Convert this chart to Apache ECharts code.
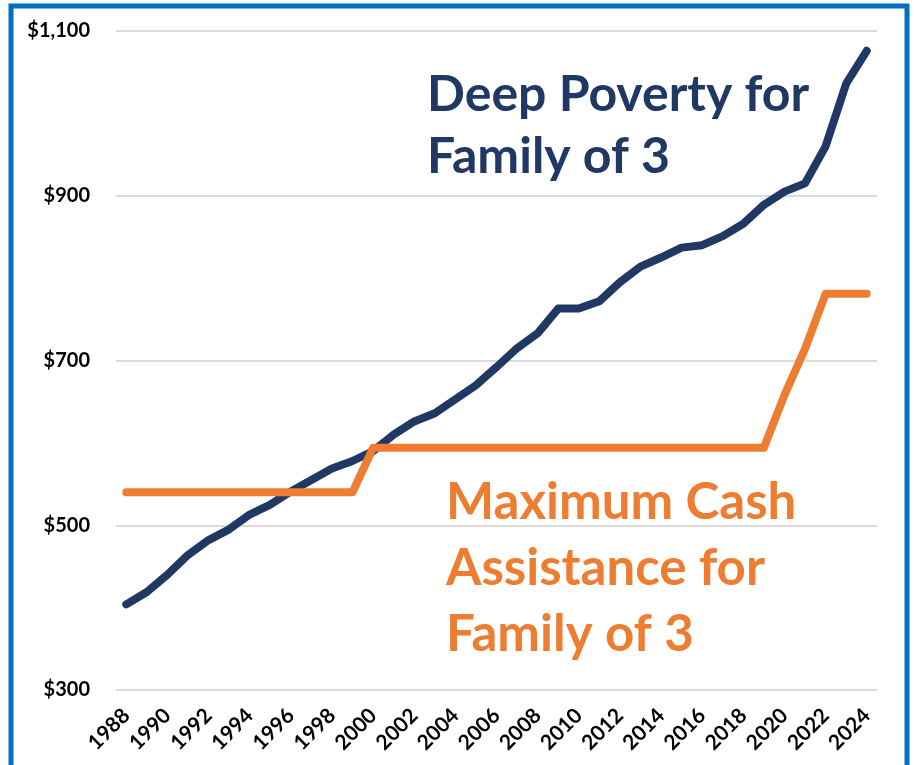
<!DOCTYPE html>
<html>
<head>
<meta charset="utf-8">
<script src="https://cdn.jsdelivr.net/npm/echarts@6/dist/echarts.min.js"></script>
<style>
  html, body { margin: 0; padding: 0; background: #fff; }
  #chart { width: 914px; height: 765px; }
</style>
</head>
<body>
<div id="chart"></div>
<script>
// years on the x axis
const years = ['1988', '1989', '1990', '1991', '1992', '1993', '1994', '1995', '1996', '1997',
  '1998', '1999', '2000', '2001', '2002', '2003', '2004', '2005', '2006', '2007',
  '2008', '2009', '2010', '2011', '2012', '2013', '2014', '2015', '2016', '2017',
  '2018', '2019', '2020', '2021', '2022', '2023', '2024'];

// deep poverty (monthly) for family of 3
const deepPoverty = [404, 419, 440, 464, 482, 495, 513, 525, 541, 555,
  569, 578, 590, 610, 626, 636, 653, 670, 692, 715,
  733, 763, 763, 772, 795, 814, 825, 837, 840, 851,
  866, 889, 905, 915, 960, 1036, 1076];

// maximum cash assistance for family of 3
const maxCash = [540, 540, 540, 540, 540, 540, 540, 540, 540, 540,
  540, 540, 594, 594, 594, 594, 594, 594, 594, 594,
  594, 594, 594, 594, 594, 594, 594, 594, 594, 594,
  594, 594, 658, 714, 781, 781, 781];

const yTicks = [300, 500, 700, 900, 1100];

const navy = '#203864';
const orange = '#ED7D31';
const labelFont = 'Lato, "Open Sans", sans-serif';

const chart = echarts.init(document.getElementById('chart'));

const option = {
  animation: false,
  backgroundColor: '#fff',
  grid: { left: 116, right: 37, top: 31, bottom: 75 },
  xAxis: {
    type: 'category',
    data: years,
    boundaryGap: true,
    axisLine: { show: false },
    axisTick: { show: false },
    axisLabel: {
      interval: 1,
      rotate: 45,
      margin: 22,
      color: '#000',
      fontFamily: labelFont,
      fontWeight: 'bold',
      fontSize: 21
    }
  },
  yAxis: {
    type: 'value',
    min: yTicks[0],
    max: yTicks[yTicks.length - 1],
    interval: 200,
    axisLine: { show: false },
    axisTick: { show: false },
    splitLine: { lineStyle: { color: '#cfcfcf', width: 1.5 } },
    axisLabel: {
      margin: 26,
      color: '#000',
      fontFamily: labelFont,
      fontWeight: 'bold',
      fontSize: 20,
      formatter: v => '$' + v.toLocaleString('en-US')
    }
  },
  series: [
    {
      name: 'Deep Poverty for Family of 3',
      type: 'line',
      data: deepPoverty,
      symbol: 'none',
      z: 3,
      lineStyle: { color: navy, width: 8, cap: 'round', join: 'round' }
    },
    {
      name: 'Maximum Cash Assistance for Family of 3',
      type: 'line',
      data: maxCash,
      symbol: 'none',
      z: 4,
      lineStyle: { color: orange, width: 8, cap: 'round', join: 'round' }
    }
  ],
  graphic: [
    {
      type: 'rect',
      shape: { x: 11, y: 6, width: 896, height: 800 },
      style: { fill: 'none', stroke: '#0070C0', lineWidth: 5 },
      silent: true
    },
    {
      type: 'text',
      left: 427, top: 64,
      style: {
        text: 'Deep Poverty for\nFamily of 3',
        fill: navy,
        font: 'bold 50px ' + labelFont,
        lineHeight: 62
      }
    },
    {
      type: 'text',
      left: 446, top: 470,
      style: {
        text: 'Maximum Cash\nAssistance for\nFamily of 3',
        fill: orange,
        font: 'bold 51px ' + labelFont,
        lineHeight: 66
      }
    }
  ]
};

chart.setOption(option);
</script>
</body>
</html>
